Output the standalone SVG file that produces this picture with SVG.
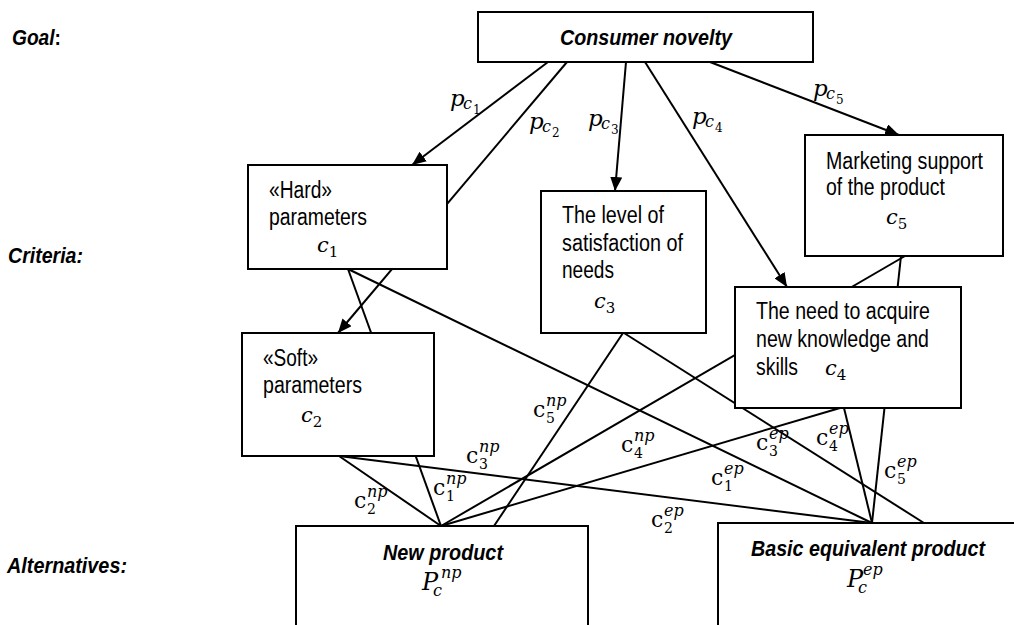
<svg xmlns="http://www.w3.org/2000/svg" width="1014" height="625" viewBox="0 0 1014 625">
<style>
.box{fill:#fff;stroke:#000;stroke-width:2}
.ln{fill:none;stroke:#000;stroke-width:2}
.t{font-family:"Liberation Sans",Arial,sans-serif;font-size:23px;fill:#000}
.bi{font-family:"Liberation Sans",Arial,sans-serif;font-size:22px;font-weight:bold;font-style:italic;fill:#000}
.m{font-family:"DejaVu Serif",serif;font-style:italic;fill:#000}
.u{font-family:"DejaVu Serif",serif;fill:#000}
</style>
<defs>
<marker id="ah" viewBox="0 0 14 12" markerWidth="14" markerHeight="12" refX="14" refY="6" orient="auto" markerUnits="userSpaceOnUse">
<path d="M0,0 L14,6 L0,12 z" fill="#000"/>
</marker>
</defs>

<g id="labels">
<text class="bi" x="12" y="45" textLength="49" lengthAdjust="spacingAndGlyphs">Goal<tspan font-style="normal">:</tspan></text>
<text class="bi" x="8" y="263" textLength="75" lengthAdjust="spacingAndGlyphs">Criteria:</text>
<text class="bi" x="7" y="573" textLength="120" lengthAdjust="spacingAndGlyphs">Alternatives:</text>
</g>

<g id="connectors">
<line class="ln" x1="548" y1="62" x2="412" y2="165" marker-end="url(#ah)"/>
<line class="ln" x1="567" y1="62" x2="338" y2="333" marker-end="url(#ah)"/>
<line class="ln" x1="626" y1="62" x2="615" y2="191" marker-end="url(#ah)"/>
<line class="ln" x1="645" y1="62" x2="787" y2="287" marker-end="url(#ah)"/>
<line class="ln" x1="710" y1="62" x2="899" y2="135" marker-end="url(#ah)"/>
<line class="ln" x1="348" y1="269" x2="441" y2="526"/>
<line class="ln" x1="348" y1="269" x2="872" y2="523"/>
<line class="ln" x1="339" y1="456" x2="441" y2="526"/>
<line class="ln" x1="339" y1="456" x2="872" y2="523"/>
<line class="ln" x1="623" y1="333" x2="494" y2="526"/>
<line class="ln" x1="624" y1="333" x2="924" y2="523"/>
<line class="ln" x1="840" y1="408" x2="441" y2="526"/>
<line class="ln" x1="844" y1="408" x2="872" y2="523"/>
<line class="ln" x1="905" y1="256" x2="441" y2="526"/>
<line class="ln" x1="901" y1="256" x2="872" y2="523"/>
</g>

<g id="goal">
<rect class="box" x="478" y="12" width="335" height="50"/>
<text class="bi" x="560" y="45" textLength="172" lengthAdjust="spacingAndGlyphs">Consumer novelty</text>
</g>

<g id="c1">
<rect class="box" x="248" y="165" width="199" height="104"/>
<text class="t" x="269" y="198" textLength="63" lengthAdjust="spacingAndGlyphs">«Hard»</text>
<text class="t" x="269" y="225" textLength="98" lengthAdjust="spacingAndGlyphs">parameters</text>
<text class="m" x="317" y="252" font-size="21">c<tspan class="u" font-style="normal" font-size="15" dy="5">1</tspan></text>
</g>

<g id="c2">
<rect class="box" x="242" y="333" width="192" height="123"/>
<text class="t" x="263" y="366" textLength="55" lengthAdjust="spacingAndGlyphs">«Soft»</text>
<text class="t" x="263" y="393" textLength="99" lengthAdjust="spacingAndGlyphs">parameters</text>
<text class="m" x="301" y="422" font-size="21">c<tspan class="u" font-style="normal" font-size="15" dy="5">2</tspan></text>
</g>

<g id="c3">
<rect class="box" x="541" y="191" width="165" height="142"/>
<text class="t" x="562" y="223" textLength="102" lengthAdjust="spacingAndGlyphs">The level of</text>
<text class="t" x="562" y="251" textLength="121" lengthAdjust="spacingAndGlyphs">satisfaction of</text>
<text class="t" x="562" y="278" textLength="52" lengthAdjust="spacingAndGlyphs">needs</text>
<text class="m" x="594" y="308" font-size="21">c<tspan class="u" font-style="normal" font-size="15" dy="5">3</tspan></text>
</g>

<g id="c5">
<rect class="box" x="805" y="135" width="198" height="121"/>
<text class="t" x="826" y="169" textLength="157" lengthAdjust="spacingAndGlyphs">Marketing support</text>
<text class="t" x="826" y="195" textLength="119" lengthAdjust="spacingAndGlyphs">of the product</text>
<text class="m" x="886" y="224" font-size="21">c<tspan class="u" font-style="normal" font-size="15" dy="5">5</tspan></text>
</g>

<g id="c4">
<rect class="box" x="735" y="287" width="226" height="121"/>
<text class="t" x="756" y="319" textLength="174" lengthAdjust="spacingAndGlyphs">The need to acquire</text>
<text class="t" x="756" y="347" textLength="173" lengthAdjust="spacingAndGlyphs">new knowledge and</text>
<text class="t" x="756" y="375" textLength="42" lengthAdjust="spacingAndGlyphs">skills</text>
<text class="m" x="825" y="375" font-size="21">c<tspan class="u" font-style="normal" font-size="15" dy="5">4</tspan></text>
</g>

<g id="newproduct">
<rect class="box" x="296" y="526" width="292" height="110"/>
<text class="bi" x="383" y="560" textLength="120" lengthAdjust="spacingAndGlyphs">New product</text>
<text class="m" x="422" y="590" font-size="24">P<tspan x="433" y="596" font-size="16">c</tspan><tspan x="441" y="578" font-size="16">np</tspan></text>
</g>

<g id="basicproduct">
<rect class="box" x="718" y="523" width="310" height="110"/>
<text class="bi" x="751" y="556" textLength="234" lengthAdjust="spacingAndGlyphs">Basic equivalent product</text>
<text class="m" x="847" y="587" font-size="24">P<tspan x="858" y="593" font-size="16">c</tspan><tspan x="863" y="575" font-size="16">ep</tspan></text>
</g>

<g id="weights">
<text class="m" x="450" y="106" font-size="23">p<tspan x="463" y="109" font-size="16">c</tspan><tspan x="473" y="114" font-size="12" font-style="normal">1</tspan></text>
<text class="m" x="529" y="129" font-size="23">p<tspan x="542" y="132" font-size="16">c</tspan><tspan x="552" y="137" font-size="12" font-style="normal">2</tspan></text>
<text class="m" x="588" y="126" font-size="23">p<tspan x="601" y="129" font-size="16">c</tspan><tspan x="611" y="134" font-size="12" font-style="normal">3</tspan></text>
<text class="m" x="692" y="124" font-size="23">p<tspan x="705" y="127" font-size="16">c</tspan><tspan x="715" y="132" font-size="12" font-style="normal">4</tspan></text>
<text class="m" x="813" y="96" font-size="23">p<tspan x="826" y="99" font-size="16">c</tspan><tspan x="836" y="104" font-size="12" font-style="normal">5</tspan></text>
</g>

<g id="edge-labels">
<text class="u" x="354" y="508" font-size="22">c<tspan x="367" y="514" font-size="14">2</tspan><tspan class="m" x="367" y="497" font-size="16">np</tspan></text>
<text class="u" x="433" y="495" font-size="22">c<tspan x="446" y="501" font-size="14">1</tspan><tspan class="m" x="446" y="484" font-size="16">np</tspan></text>
<text class="u" x="466" y="463" font-size="22">c<tspan x="479" y="469" font-size="14">3</tspan><tspan class="m" x="479" y="452" font-size="16">np</tspan></text>
<text class="u" x="533" y="417" font-size="22">c<tspan x="546" y="423" font-size="14">5</tspan><tspan class="m" x="546" y="406" font-size="16">np</tspan></text>
<text class="u" x="621" y="452" font-size="22">c<tspan x="634" y="458" font-size="14">4</tspan><tspan class="m" x="634" y="441" font-size="16">np</tspan></text>
<text class="u" x="711" y="485" font-size="22">c<tspan x="724" y="491" font-size="14">1</tspan><tspan class="m" x="724" y="474" font-size="16">ep</tspan></text>
<text class="u" x="651" y="527" font-size="22">c<tspan x="664" y="533" font-size="14">2</tspan><tspan class="m" x="664" y="516" font-size="16">ep</tspan></text>
<text class="u" x="756" y="450" font-size="22">c<tspan x="769" y="456" font-size="14">3</tspan><tspan class="m" x="769" y="439" font-size="16">ep</tspan></text>
<text class="u" x="816" y="445" font-size="22">c<tspan x="829" y="451" font-size="14">4</tspan><tspan class="m" x="829" y="434" font-size="16">ep</tspan></text>
<text class="u" x="884" y="478" font-size="22">c<tspan x="897" y="484" font-size="14">5</tspan><tspan class="m" x="897" y="467" font-size="16">ep</tspan></text>
</g>
</svg>
